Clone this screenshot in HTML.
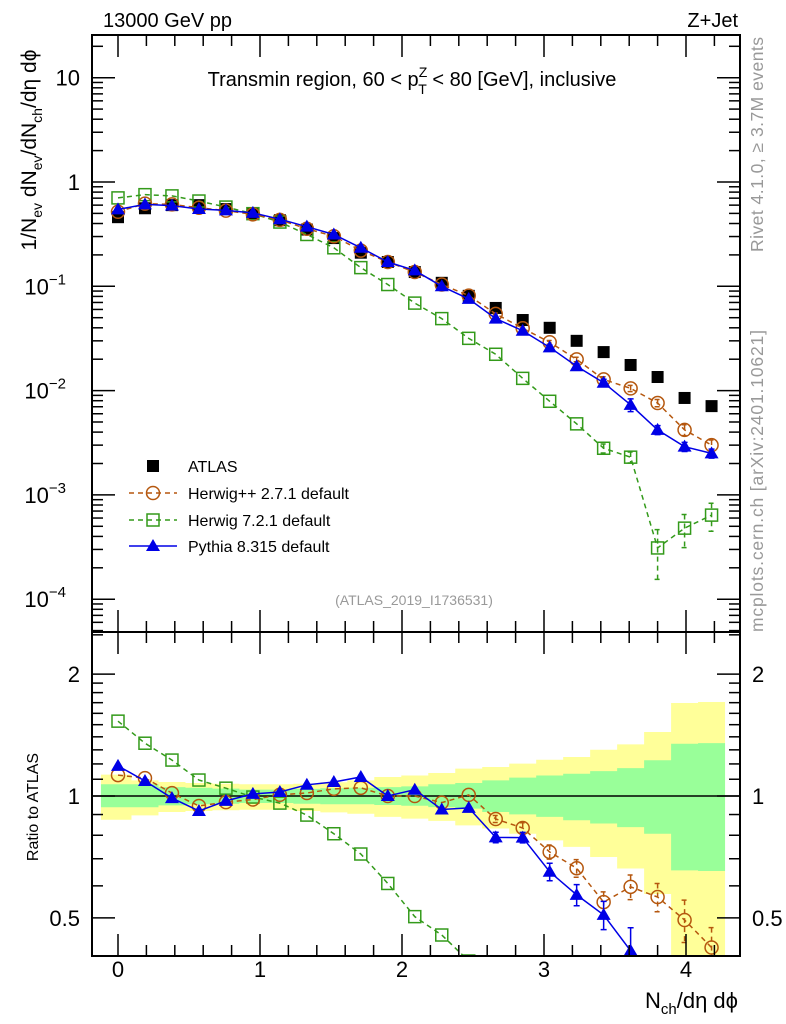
<!DOCTYPE html>
<html><head><meta charset="utf-8"><style>
html,body{margin:0;background:#fff;overflow:hidden;width:786px;height:1024px;}
svg{display:block;font-family:"Liberation Sans",sans-serif;}
</style></head><body>
<svg id="c" width="786" height="1024" viewBox="0 0 786 1024">
<defs>
<clipPath id="cm"><rect x="92" y="35" width="648" height="597"/></clipPath>
<clipPath id="cr"><rect x="92" y="632" width="648" height="324"/></clipPath>
</defs>
<text x="103" y="27" font-size="20">13000 GeV pp</text>
<text x="738" y="27" font-size="20" text-anchor="end">Z+Jet</text>
<text x="412" y="86" font-size="20" text-anchor="middle">Transmin region, 60 &lt; p<tspan font-size="14" dy="-9">Z</tspan><tspan font-size="14" dx="-9" dy="17">T</tspan><tspan dy="-8"> &lt; 80 [GeV], inclusive</tspan></text>
<text x="414" y="605" font-size="14" fill="#999" text-anchor="middle">(ATLAS_2019_I1736531)</text>
<text transform="translate(763,252) rotate(-90)" font-size="17.5" fill="#999" textLength="215">Rivet 4.1.0, ≥ 3.7M events</text>
<text transform="translate(763,632) rotate(-90)" font-size="17.5" fill="#999" textLength="302">mcplots.cern.ch [arXiv:2401.10621]</text>
<text transform="translate(36,150) rotate(-90)" font-size="21" text-anchor="middle">1/N<tspan font-size="14" dy="6">ev</tspan><tspan dy="-6"> dN</tspan><tspan font-size="14" dy="6">ev</tspan><tspan dy="-6">/dN</tspan><tspan font-size="14" dy="6">ch</tspan><tspan dy="-6">/dη dϕ</tspan></text>
<text transform="translate(38,807) rotate(-90)" font-size="16" text-anchor="middle">Ratio to ATLAS</text>
<text x="738" y="1008" font-size="22" text-anchor="end">N<tspan font-size="15" dy="6">ch</tspan><tspan dy="-6">/dη dϕ</tspan></text>
<g id="bands" clip-path="url(#cr)"></g>
<g id="main" clip-path="url(#cm)"></g>
<g id="ratio" clip-path="url(#cr)"></g>
<g id="axes"></g>
<g id="legend"></g>
</svg>
<script>
const xs=[0,0.19,0.38,0.57,0.76,0.95,1.14,1.33,1.52,1.71,1.9,2.09,2.28,2.47,2.66,2.85,3.04,3.23,3.42,3.61,3.8,3.99,4.18];
const atlas=[0.46,0.56,0.60,0.60,0.55,0.50,0.43,0.35,0.29,0.21,0.171,0.137,0.108,0.081,0.062,0.0475,0.040,0.030,0.0234,0.0176,0.0135,0.0085,0.0071];
const herwigpp=[0.518,0.62,0.61,0.567,0.531,0.49,0.433,0.356,0.302,0.22,0.171,0.137,0.104,0.0815,0.0544,0.0396,0.0291,0.0199,0.0128,0.0105,0.0076,0.0042,0.003];
const herwig7=[0.704,0.756,0.736,0.657,0.575,0.497,0.413,0.314,0.234,0.151,0.104,0.069,0.049,0.0317,0.0223,0.0131,0.0079,0.0048,0.0028,0.0023,0.00031,0.00048,0.00064];
const pythia=[0.546,0.61,0.593,0.551,0.535,0.506,0.44,0.373,0.314,0.234,0.171,0.142,0.100,0.0757,0.049,0.0375,0.026,0.0171,0.0119,0.0073,0.0042,0.0029,0.0025];
const herwigppErr=[0,0,0,0,0,0,0,0,0,0,0,0,0,0,0.02,0.03,0.04,0.05,0.06,0.07,0.08,0.12,0.12];
const herwig7Err=[0,0,0,0,0,0,0,0,0,0,0,0,0,0,0,0,0,0,0.1,0.12,0.5,0.35,0.3];
const pythiaErr=[0,0,0,0,0,0,0,0,0,0,0,0,0,0,0.03,0.03,0.05,0.06,0.08,0.14,0.1,0.1,0.1];
const innerHi=[1.069,1.069,1.052,1.048,1.043,1.037,1.037,1.041,1.045,1.048,1.052,1.056,1.069,1.077,1.093,1.11,1.124,1.135,1.152,1.172,1.225,1.346,1.351];
const innerLo=[0.938,0.938,0.948,0.954,0.957,0.961,0.961,0.957,0.954,0.954,0.95,0.946,0.939,0.931,0.913,0.901,0.888,0.871,0.855,0.838,0.807,0.655,0.653];
const outerHi=[1.129,1.093,1.083,1.077,1.072,1.069,1.069,1.072,1.081,1.093,1.114,1.124,1.14,1.168,1.179,1.202,1.229,1.248,1.301,1.341,1.439,1.697,1.706];
const outerLo=[0.874,0.896,0.913,0.918,0.922,0.925,0.925,0.918,0.911,0.904,0.888,0.879,0.868,0.846,0.831,0.807,0.777,0.749,0.707,0.662,0.573,0.3,0.3];
const xTicks=[0,1,2,3,4];
const yMainTicks=[10,1,0.1,0.01,0.001,0.0001];
const yMainLabels=["10","1","10|−1","10|−2","10|−3","10|−4"];
const yRatioTicks=[0.5,1,2];

const NS="http://www.w3.org/2000/svg";
const BOT=956;
const X=v=>118+v*142;
const YM=v=>182-Math.log10(v)*104.3;
const YR=v=>796-Math.log10(v)*405;
function el(tag,attrs,parent){const e=document.createElementNS(NS,tag);for(const k in attrs)e.setAttribute(k,attrs[k]);parent.appendChild(e);return e;}
const gMain=document.getElementById('main'),gRatio=document.getElementById('ratio'),gBands=document.getElementById('bands'),gAx=document.getElementById('axes'),gLeg=document.getElementById('legend');

function band(lo,hi,color,name){
  let top='',bot='';
  for(let i=0;i<xs.length;i++){
    const a=i==0?xs[0]-0.12:(xs[i-1]+xs[i])/2, b=i==xs.length-1?xs[i]+0.095:(xs[i]+xs[i+1])/2;
    top+=(i==0?'M':'L')+X(a)+','+YR(hi[i])+'L'+X(b)+','+YR(hi[i]);
  }
  for(let i=xs.length-1;i>=0;i--){
    const a=i==0?xs[0]-0.12:(xs[i-1]+xs[i])/2, b=i==xs.length-1?xs[i]+0.095:(xs[i]+xs[i+1])/2;
    bot+='L'+X(b)+','+YR(lo[i])+'L'+X(a)+','+YR(lo[i]);
  }
  const p=el('path',{d:top+bot+'Z',fill:color},gBands);
  
  
}
band(outerLo,outerHi,'#ffff99','ratio-band-outer');
band(innerLo,innerHi,'#99ff99','ratio-band-inner');
const one=el('line',{x1:92,x2:740,y1:YR(1),y2:YR(1),stroke:'#000','stroke-width':1.5},gRatio);



function marker(type,cx,cy,color,g){
  let m;
  if(type=='sq')m=el('rect',{x:cx-6,y:cy-6,width:12,height:12,fill:color},g);
  else if(type=='osq')m=el('rect',{x:cx-6,y:cy-6,width:12,height:12,fill:'none',stroke:color,'stroke-width':1.5},g);
  else if(type=='oc')m=el('circle',{cx:cx,cy:cy,r:6.5,fill:'none',stroke:color,'stroke-width':1.5},g);
  else m=el('path',{d:`M${cx},${cy-7}L${cx+7},${cy+5}L${cx-7},${cy+5}Z`,fill:color},g);
  
  
}
function series(vals,errs,color,dash,type,name,ratio){
  const g=ratio?gRatio:gMain, Y=ratio?YR:YM;
  const v=vals.map((d,i)=>ratio?d/atlas[i]:d);
  const line=el('path',{d:v.map((d,i)=>(i?'L':'M')+X(xs[i])+','+Y(d)).join(''),fill:'none',stroke:color,'stroke-width':1.5,'stroke-dasharray':dash},g);
  
  
  v.forEach((d,i)=>{
    if(errs[i]>0){
      const lo=Math.max(d*(1-errs[i]),1e-6),hi=d*(1+errs[i]);
      const e=el('path',{d:`M${X(xs[i])},${Y(hi)}L${X(xs[i])},${Y(lo)}M${X(xs[i])-3},${Y(hi)}L${X(xs[i])+3},${Y(hi)}M${X(xs[i])-3},${Y(lo)}L${X(xs[i])+3},${Y(lo)}`,stroke:color,'stroke-width':1.5,'stroke-dasharray':dash},g);
      
      
    }
    marker(type,X(xs[i]),Y(d),color,g);
  });
}
atlas.forEach((d,i)=>marker('sq',X(xs[i]),YM(d),'#000',gMain));
series(herwig7,herwig7Err,'#339a1a','5,4','osq','herwig7',false);
series(herwigpp,herwigppErr,'#b5570e','5,4','oc','herwigpp',false);
series(pythia,pythiaErr,'#0000e6','none','tri','pythia',false);
series(herwig7,herwig7Err,'#339a1a','5,4','osq','herwig7',true);
series(herwigpp,herwigppErr,'#b5570e','5,4','oc','herwigpp',true);
series(pythia,pythiaErr,'#0000e6','none','tri','pythia',true);

[[35,632,'main-frame'],[632,BOT,'ratio-frame']].forEach(f=>{
  const r=el('rect',{x:92,y:f[0],width:648,height:f[1]-f[0],fill:'none',stroke:'#000','stroke-width':2},gAx);
  
  
});
function tick(x1,y1,x2,y2){el('line',{x1,y1,x2,y2,stroke:'#000','stroke-width':1.5},gAx);}
for(let k=-1;k<=22;k++){const v=k*0.2;const x=X(v);if(x<92||x>740)continue;const maj=Math.abs(v-Math.round(v))<1e-6;const L=maj?22:11;
  [[35,1],[632,-1],[632,1],[BOT,-1]].forEach(([y,s])=>tick(x,y,x,y+s*L));}
xTicks.forEach(v=>{const t=el('text',{x:X(v),y:977,'font-size':22,'text-anchor':'middle'},gAx);t.textContent=v;
  
  });
for(let d=-5;d<=1;d++)for(let m=1;m<=9;m++){const v=m*Math.pow(10,d);const y=YM(v);if(y<35||y>632)continue;const L=m==1?23:11;tick(92,y,92+L,y);tick(740,y,740-L,y);}
yMainTicks.forEach((v,i)=>{const p=yMainLabels[i].split('|');const t=el('text',{x:80,y:YM(v)+8,'font-size':22,'text-anchor':'end'},gAx);
  if(p.length==1)t.textContent=p[0];else{t.setAttribute('x',66);t.textContent=p[0];const s=el('tspan',{'font-size':15,dy:-10},t);s.textContent=p[1];}
  
  });
[0.4,0.5,0.6,0.7,0.8,0.9,1,1.1,1.2,1.3,1.4,1.5,1.6,1.7,1.8,1.9,2,2.5].forEach(v=>{const y=YR(v);if(y<632||y>BOT)return;const L=(v==0.5||v==1||v==2)?23:11;tick(92,y,92+L,y);tick(740,y,740-L,y);});
yRatioTicks.forEach(v=>{[[80,'end'],[752,'start']].forEach(([x,a])=>{const t=el('text',{x,y:YR(v)+8,'font-size':22,'text-anchor':a},gAx);t.textContent=v;
  
  });});
const leg=[['ATLAS','#000','none','sq',false],['Herwig++ 2.7.1 default','#b5570e','5,4','oc',true],['Herwig 7.2.1 default','#339a1a','5,4','osq',true],['Pythia 8.315 default','#0000e6','none','tri',true]];
const legY=[466,493,520,546];
leg.forEach((l,i)=>{const y=legY[i];
  if(l[4]){const ln=el('line',{x1:129,x2:177,y1:y,y2:y,stroke:l[1],'stroke-width':1.5,'stroke-dasharray':l[2]},gLeg);
    
    }
  marker(l[3],153,y,l[1],gLeg);
  const t=el('text',{x:188,y:y+6,'font-size':16},gLeg);t.textContent=l[0];
  
  });
</script>
</body></html>
